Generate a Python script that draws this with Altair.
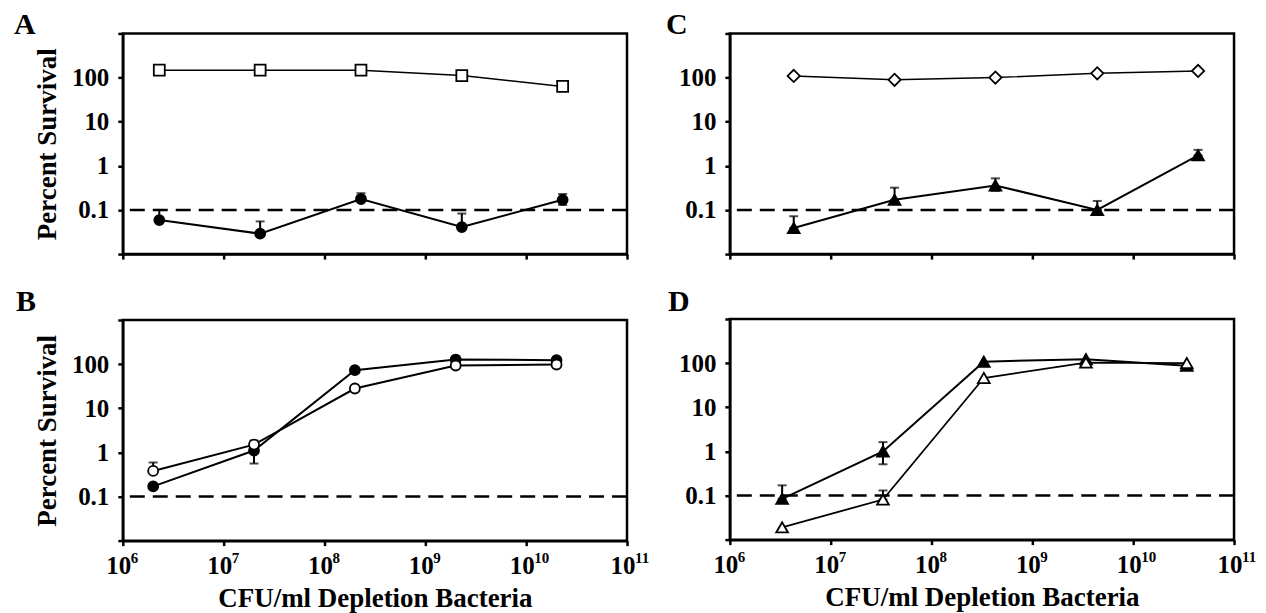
import altair as alt
import pandas as pd

FONT = "Liberation Serif"

# ---------------- data ----------------
x_ticks = [1e6, 1e7, 1e8, 1e9, 1e10, 1e11]
x_tick_base = "10"
x_tick_exponents = ["6", "7", "8", "9", "10", "11"]
y_ticks = [0.01, 0.1, 1, 10, 100, 1000]
y_tick_labels = ["", "0.1", "1", "10", "100", ""]
threshold = [0.1]

# Panel A
a_x = [2.3e6, 2.3e7, 2.3e8, 2.3e9, 2.3e10]
a_open = [147, 147, 147, 111, 63]
a_filled = [0.059, 0.029, 0.177, 0.041, 0.17]
a_filled_hi = [0.1, 0.055, 0.24, 0.083, 0.23]
a_filled_lo = [0.059, 0.029, 0.177, 0.041, 0.13]

# Panel B
b_x = [2e6, 2e7, 2e8, 2e9, 2e10]
b_filled = [0.17, 1.1, 73, 127, 123]
b_open = [0.38, 1.5, 28, 93, 98]
b_filled_hi = [0.17, 1.1, 73, 127, 123]
b_filled_lo = [0.17, 0.56, 73, 127, 123]
b_open_hi = [0.59, 1.86, 28, 93, 98]
b_open_lo = [0.38, 1.5, 28, 93, 98]

# Panel C
c_x = [4.3e6, 4.3e7, 4.3e8, 4.4e9, 4.4e10]
c_open = [109, 89, 100, 125, 141]
c_filled = [0.039, 0.17, 0.36, 0.1, 1.73]
c_filled_hi = [0.072, 0.32, 0.52, 0.16, 2.3]
c_filled_lo = [0.039, 0.17, 0.27, 0.1, 1.73]

# Panel D
d_x = [3.3e6, 3.3e7, 3.3e8, 3.4e9, 3.4e10]
d_filled = [0.084, 1.0, 108, 123, 87]
d_open = [0.019, 0.081, 46, 103, 100]
d_filled_hi = [0.17, 1.62, 108, 123, 87]
d_filled_lo = [0.084, 0.51, 108, 123, 87]
d_open_hi = [0.019, 0.13, 46, 103, 100]
d_open_lo = [0.019, 0.081, 46, 103, 100]

PLOT_W = 505
PLOT_H = 221


def label_expr(vals, labels):
    s = ""
    for v, l in zip(vals, labels):
        s += f"datum.value == {float(v)!r} ? '{l}' : "
    return s + "''"


class Axes:
    def __init__(self, show_x_labels, show_y_title, show_x_title):
        self.show_x_labels = show_x_labels
        self.xaxis = alt.Axis(values=x_ticks, labelExpr=f"'{x_tick_base}'",
                              labels=show_x_labels, labelPadding=8, titlePadding=7,
                              labelAlign="right", labelOffset=8)
        self.yaxis = alt.Axis(values=y_ticks, labelExpr=label_expr(y_ticks, y_tick_labels),
                              labelPadding=9, titlePadding=10)
        self.xt = "CFU/ml Depletion Bacteria" if show_x_title else None
        self.yt = "Percent Survival" if show_y_title else None
        self.xs = alt.Scale(type="log", domain=[1e6, 1e11], nice=False)
        self.ys = alt.Scale(type="log", domain=[0.01, 1000], nice=False)

    def x(self, field="x:Q"):
        return alt.X(field, scale=self.xs, axis=self.xaxis, title=self.xt)

    def y(self, field="y:Q"):
        return alt.Y(field, scale=self.ys, axis=self.yaxis, title=self.yt)


def series(ax, xs, ys, shape, filled, line_w, size):
    df = pd.DataFrame({"x": xs, "y": ys})
    line = alt.Chart(df).mark_line(color="black", strokeWidth=line_w).encode(x=ax.x(), y=ax.y())
    pts = alt.Chart(df).mark_point(
        shape=shape, filled=True, fill="black" if filled else "white",
        stroke="black", strokeWidth=1.8, size=size, opacity=1,
    ).encode(x=ax.x(), y=ax.y())
    return [line, pts]


def errs(ax, xs, lo, hi):
    df = pd.DataFrame({"x": xs, "lo": lo, "hi": hi})
    df = df[df["hi"] > df["lo"] * 1.0001]
    rule = alt.Chart(df).mark_rule(color="black", strokeWidth=2).encode(
        x=ax.x(), y=ax.y("lo:Q"), y2="hi:Q")
    caps_hi = alt.Chart(df).mark_tick(color="black", thickness=2, size=9, orient="horizontal").encode(
        x=ax.x(), y=ax.y("hi:Q"))
    caps_lo = alt.Chart(df).mark_tick(color="black", thickness=2, size=9, orient="horizontal").encode(
        x=ax.x(), y=ax.y("lo:Q"))
    return [rule, caps_hi, caps_lo]


def panel(ax, letter, layers, letter_dx, letter_dy):
    thr = alt.Chart(pd.DataFrame({"y": threshold})).mark_rule(
        color="black", strokeWidth=2.5, strokeDash=[15, 8]
    ).encode(y=ax.y())
    lab = alt.Chart(pd.DataFrame({"t": [letter]})).mark_text(
        font=FONT, fontSize=30, fontWeight="bold", color="black", align="left", baseline="alphabetic"
    ).encode(text="t:N", x=alt.value(letter_dx), y=alt.value(letter_dy))
    extra = []
    if ax.show_x_labels:
        exp_df = pd.DataFrame({"x": x_ticks, "t": x_tick_exponents})
        extra.append(alt.Chart(exp_df).mark_text(
            font=FONT, fontSize=15, fontWeight="bold", color="black", align="left",
            baseline="top", dx=8,
        ).encode(x=ax.x(), y=alt.value(PLOT_H + 10), text="t:N"))
    return alt.layer(thr, *layers, lab, *extra).properties(width=PLOT_W, height=PLOT_H)


axA = Axes(False, True, False)
pA = panel(axA, "A",
           errs(axA, a_x, a_filled_lo, a_filled_hi)
           + series(axA, a_x, a_open, "square", False, 1.5, 120)
           + series(axA, a_x, a_filled, "circle", True, 2, 100),
           -109, 1)
axB = Axes(True, True, True)
pB = panel(axB, "B",
           errs(axB, b_x, b_filled_lo, b_filled_hi) + errs(axB, b_x, b_open_lo, b_open_hi)
           + series(axB, b_x, b_filled, "circle", True, 2, 100)
           + series(axB, b_x, b_open, "circle", False, 2, 100),
           -107, -9)
axC = Axes(False, False, False)
pC = panel(axC, "C",
           errs(axC, c_x, c_filled_lo, c_filled_hi)
           + series(axC, c_x, c_open, "diamond", False, 1.5, 150)
           + series(axC, c_x, c_filled, "triangle-up", True, 2, 140),
           -64, 1)
axD = Axes(True, False, True)
pD = panel(axD, "D",
           errs(axD, d_x, d_filled_lo, d_filled_hi) + errs(axD, d_x, d_open_lo, d_open_hi)
           + series(axD, d_x, d_filled, "triangle-up", True, 2, 140)
           + series(axD, d_x, d_open, "triangle-up", False, 1.8, 140),
           -62, -8)

chart = alt.hconcat(
    alt.vconcat(pA, pB, spacing=16),
    alt.vconcat(pC, pD, spacing=16),
    spacing=13,
).properties(
    padding={"left": 4, "top": 0, "right": 0, "bottom": 0}
).configure_view(
    stroke="black", strokeWidth=2.5
).configure_axis(
    grid=False, domainWidth=2.5, domainColor="black", tickWidth=2.5, tickColor="black",
    tickSize=5, labelFont=FONT, labelFontSize=25, labelFontWeight="bold", labelColor="black",
    titleFont=FONT, titleFontSize=27, titleFontWeight="bold", titleColor="black",
    labelFlush=False, labelOverlap=False,
)

chart.save("out.html", embed_options={"renderer": "svg", "actions": False})
